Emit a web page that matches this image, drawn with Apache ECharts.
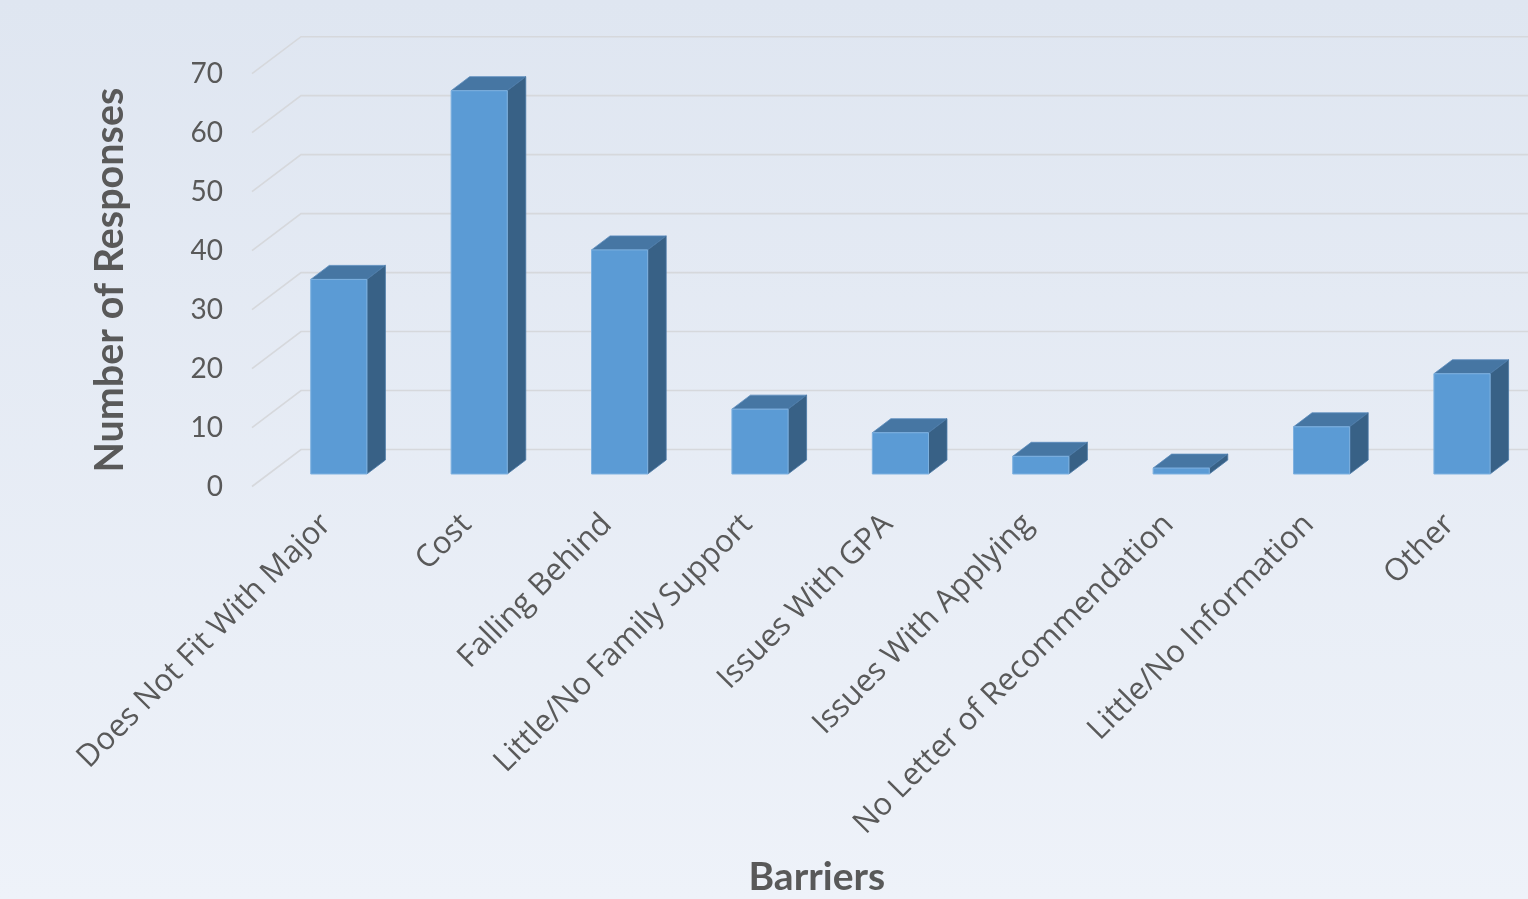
<!DOCTYPE html>
<html><head><meta charset="utf-8">
<script src="https://cdn.jsdelivr.net/npm/echarts@6/dist/echarts.min.js"></script>
<style>html,body{margin:0;padding:0;} #c{width:1528px;height:899px;}</style>
</head><body><div id="c"></div>
<script>
const categories = ['Does Not Fit With Major','Cost','Falling Behind','Little/No Family Support','Issues With GPA','Issues With Applying','No Letter of Recommendation','Little/No Information','Other'];
const responses = [33, 65, 38, 11, 7, 3, 1, 8, 17];
const yTicks = [0, 10, 20, 30, 40, 50, 60, 70];

// pseudo-3D geometry (pixels)
const SHIFT = 4;            // label anchor vs. front plane
const WALL = [49, -37];     // full depth vector
const BAR_FRONT = [16.6 - SHIFT, -12.5];
const BAR_DEPTH = [18.5, -14];

const chart = echarts.init(document.getElementById('c'));
const option = {
  backgroundColor: {type:'linear', x:0, y:0, x2:0, y2:1, colorStops:[{offset:0,color:'#dfe6f1'},{offset:1,color:'#eef2f9'}]},
  animation: false,
  grid: {left: 256, right: 8.4, top: 73.7, bottom: 412.5},
  xAxis: {
    type: 'category', data: categories,
    axisLine: {show:false}, axisTick: {show:false}, splitLine:{show:false},
    axisLabel: {interval:0, rotate:45, fontSize:31, color:'#595959', fontFamily:'Open Sans', margin:33},
    name: 'Barriers', nameLocation:'middle', nameGap: 371,
    nameTextStyle: {fontSize:39, fontWeight:'bold', color:'#595959', fontFamily:'Lato', padding:[0,142,0,0]}
  },
  yAxis: {
    type: 'value', min: 0, max: 70, interval: 10,
    axisLine:{show:false}, axisTick:{show:false}, splitLine:{show:false},
    axisLabel: {fontSize:28, color:'#595959', fontFamily:'Lato', margin:33},
    name: 'Number of Responses', nameLocation:'middle', nameRotate:90, nameGap: 126,
    nameTextStyle: {fontSize:39.5, fontWeight:'bold', color:'#595959', fontFamily:'Lato'}
  },
  series: [
    {
      type: 'custom', z: 1, silent: true, clip: false,
      data: yTicks.map(v => [0, v]),
      renderItem(params, api) {
        const p = api.coord([0, api.value(1)]);
        const band = api.size([1, 0])[0];
        const x0 = p[0] - band / 2 - SHIFT, y0 = p[1];
        return {type:'polyline', shape:{points:[[x0,y0],[x0+WALL[0],y0+WALL[1]],[api.getWidth(),y0+WALL[1]]]},
          style:{stroke:'#d6d8dc', lineWidth:1.6, fill:null}};
      }
    },
    {
      type: 'custom', z: 2, clip: false,
      data: responses.map((v, i) => [i, v]),
      renderItem(params, api) {
        const i = api.value(0), v = api.value(1);
        const b = api.coord([i, 0]), t = api.coord([i, v]);
        const band = api.size([1, 0])[0];
        const w = band * 0.4;
        const xl = b[0] + BAR_FRONT[0] - w / 2, xr = xl + w;
        const yb = b[1] + BAR_FRONT[1], yt = t[1] + BAR_FRONT[1];
        const dx = BAR_DEPTH[0], dy = BAR_DEPTH[1];
        return {type:'group', children:[
          {type:'polygon', shape:{points:[[xl,yt],[xr,yt],[xr+dx,yt+dy],[xl+dx,yt+dy]]}, style:{fill:'#4676a3', stroke:'#5a8cbc', lineWidth:0.8}},
          {type:'polygon', shape:{points:[[xr,yt],[xr+dx,yt+dy],[xr+dx,yb+dy],[xr,yb]]}, style:{fill:'#386186', stroke:'#4a79a6', lineWidth:0.8}},
          {type:'rect', shape:{x:xl, y:yt, width:w, height:yb-yt}, style:{fill:'#5b9bd5', stroke:'#7eb1e0', lineWidth:1}}
        ]};
      }
    }
  ]
};
chart.setOption(option);
</script></body></html>
